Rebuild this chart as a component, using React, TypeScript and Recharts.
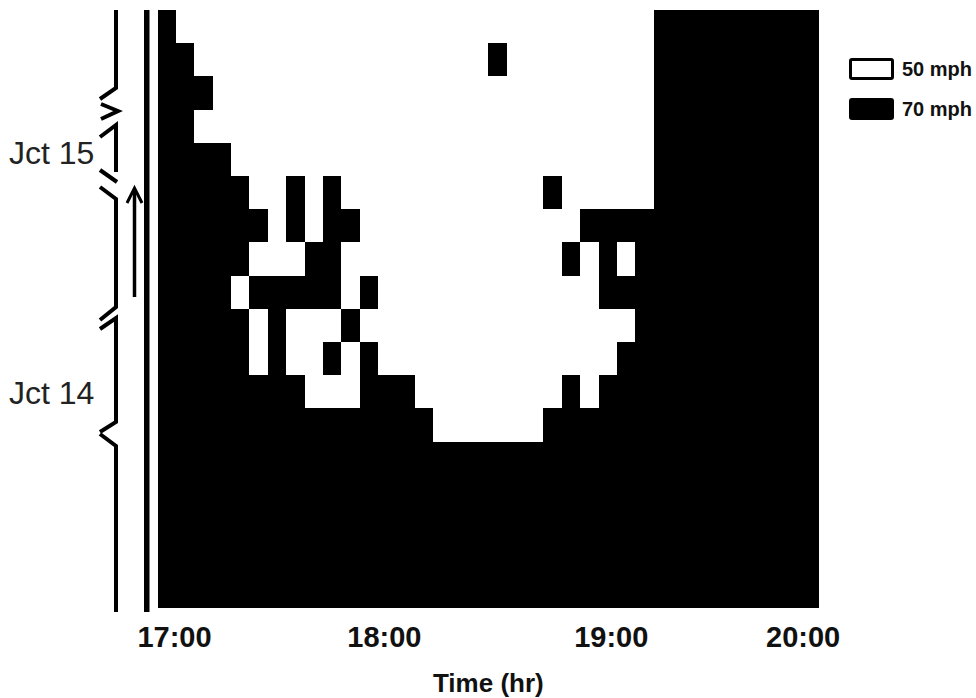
import { BarChart, Bar, XAxis, YAxis, Legend } from "recharts";

// five-minute slots, 17:00 to 19:55
const slotLabels = [
  "17:00", "17:05", "17:10", "17:15", "17:20", "17:25", "17:30", "17:35", "17:40", "17:45", "17:50", "17:55",
  "18:00", "18:05", "18:10", "18:15", "18:20", "18:25", "18:30", "18:35", "18:40", "18:45", "18:50", "18:55",
  "19:00", "19:05", "19:10", "19:15", "19:20", "19:25", "19:30", "19:35", "19:40", "19:45", "19:50", "19:55",
];

// clock ticks, in slots from 17:00
const clockTicks = [0, 12, 24, 36];
const clockLabels = ["17:00", "18:00", "19:00", "20:00"];

// speed limit per road segment (top = past Jct 15, bottom = before Jct 14)
// '#' = 70 mph, '.' = 50 mph; one group of 12 slots per hour
const speedRows = [
  "#........... ............ ...#########",
  "##.......... ......#..... ...#########",
  "###......... ............ ...#########",
  "##.......... ............ ...#########",
  "####........ ............ ...#########",
  "#####..#.#.. .........#.. ...#########",
  "######.#.##. ...........# ############",
  "#####...##.. ..........#. #.##########",
  "####.#####.# ............ ############",
  "#####.#...#. ............ ..##########",
  "#####.#..#.# ............ .###########",
  "########...# ##........#. ############",
  "############ ###......### ############",
  "############ ############ ############",
  "############ ############ ############",
  "############ ############ ############",
  "############ ############ ############",
  "############ ############ ############",
];

const legendItems = [
  { label: "50 mph", fill: "#ffffff" },
  { label: "70 mph", fill: "#000000" },
];

const junctions = [
  { label: "Jct 15", y: 164 },
  { label: "Jct 14", y: 404 },
];

const W = 976;
const H = 698;
const PLOT_LEFT = 157.5;
const PLOT_RIGHT = 819.2;
const PLOT_TOP = 10;
const PLOT_BOTTOM = 607.6;
const FONT = "Liberation Sans, Arial, sans-serif";

const rows = speedRows.map((r) => r.replace(/ /g, ""));

const data = slotLabels.map((slot, col) => {
  const d: Record<string, any> = { slot, col };
  rows.forEach((_, r) => {
    d[`seg${r}`] = 1;
  });
  return d;
});

const ClockTick = (props: any) => {
  const { x, index } = props;
  const nudge = [17, 0, 0, -35][index] ?? 0;
  return (
    <text
      x={x + nudge}
      y={PLOT_BOTTOM + 39}
      textAnchor="middle"
      fontFamily={FONT}
      fontWeight={700}
      fontSize={29}
      fill="#111"
    >
      {clockLabels[index]}
    </text>
  );
};

const SpeedLegend = () => (
  <div style={{ fontFamily: FONT }}>
    {legendItems.map((item) => (
      <div key={item.label} style={{ display: "flex", alignItems: "center", height: 22, marginBottom: 18 }}>
        <div
          style={{
            width: 39,
            height: 16,
            background: item.fill,
            border: "3px solid #000",
            borderRadius: 3,
            marginRight: 8,
          }}
        />
        <span style={{ fontWeight: 700, fontSize: 20, color: "#111" }}>{item.label}</span>
      </div>
    ))}
  </div>
);

// road schematic down the left side
const RoadSketch = () => (
  <svg
    width={W}
    height={H}
    style={{ position: "absolute", left: 0, top: 0, pointerEvents: "none" }}
  >
    <g stroke="#000" strokeWidth={4} fill="none">
      <polyline points="116,10 116,88 100,99" />
      <polyline points="101,104 118,111 101,119" />
      <polyline points="100,137 116,125 116,172" />
      <line x1={100} y1={170} x2={117} y2={182} />
      <polyline points="100,187 116,199 116,307 100,320" />
      <polyline points="100,329 116,318 116,422 100,432" />
      <polyline points="100,434 116,446 116,612" />
      <line x1={134.5} y1={190} x2={134.5} y2={297} strokeWidth={3.5} />
      <polyline points="127,203 134.5,188 142,203" strokeWidth={3} />
    </g>
    <rect x={144} y={10} width={5.5} height={602} fill="#000" />
    {junctions.map((j) => (
      <text key={j.label} x={9} y={j.y} fontFamily={FONT} fontSize={32} fill="#222">
        {j.label}
      </text>
    ))}
  </svg>
);

export default function App() {
  return (
    <div style={{ position: "absolute", left: 0, top: 0, width: W, height: H, background: "#fff" }}>
      <BarChart
        width={W}
        height={H}
        data={data}
        barCategoryGap={0}
        barGap={0}
        margin={{ top: PLOT_TOP, left: PLOT_LEFT, right: W - PLOT_RIGHT, bottom: 0 }}
      >
        <XAxis xAxisId="slot" dataKey="slot" hide />
        <XAxis
          xAxisId="clock"
          type="number"
          domain={[0, 36]}
          ticks={clockTicks}
          allowDataOverflow
          axisLine={false}
          tickLine={false}
          tick={<ClockTick />}
          height={H - PLOT_BOTTOM}
          label={{
            value: "Time (hr)",
            position: "insideBottom",
            offset: 6,
            fill: "#111",
            fontSize: 26,
            fontWeight: 700,
            fontFamily: FONT,
          }}
        />
        <YAxis yAxisId="road" type="number" domain={[0, 18]} hide />
        <Legend
          layout="horizontal"
          verticalAlign="middle"
          align="center"
          content={<SpeedLegend />}
          wrapperStyle={{ top: 58, left: 849, width: 127 }}
        />
        {rows.map((_, i) => {
          const r = rows.length - 1 - i;
          return (
            <Bar
              key={r}
              xAxisId="slot"
              yAxisId="road"
              dataKey={`seg${r}`}
              stackId="road"
              isAnimationActive={false}
              shape={(p: any) => {
                const c = p.payload?.col ?? p.index;
                return (
                  <rect
                    x={p.x}
                    y={p.y}
                    width={p.width + 0.5}
                    height={p.height}
                    fill={rows[r][c] === "#" ? "#000" : "#fff"}
                    shapeRendering="crispEdges"
                  />
                );
              }}
            />
          );
        })}
      </BarChart>
      <RoadSketch />
    </div>
  );
}
